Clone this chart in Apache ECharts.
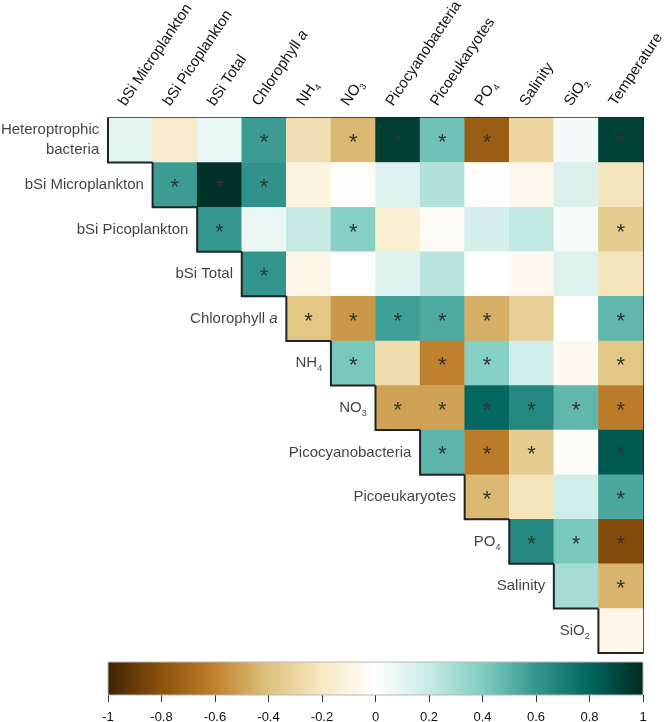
<!DOCTYPE html>
<html>
<head>
<meta charset="utf-8">
<script src="https://cdn.jsdelivr.net/npm/echarts@6/dist/echarts.min.js"></script>
<style>
  html, body { margin: 0; padding: 0; background: #fff; }
  #chart { width: 665px; height: 722px; }
</style>
</head>
<body>
<div id="chart"></div>
<script>
// column / row names ({i|..} italic, {sub|..} subscript)
var columns = ['bSi Microplankton', 'bSi Picoplankton', 'bSi Total', 'Chlorophyll {i|a}', 'NH{sub|4}', 'NO{sub|3}',
  'Picocyanobacteria', 'Picoeukaryotes', 'PO{sub|4}', 'Salinity', 'SiO{sub|2}', 'Temperature'];
var rows = ['Heteroptrophic\nbacteria', 'bSi Microplankton', 'bSi Picoplankton', 'bSi Total', 'Chlorophyll {i|a}',
  'NH{sub|4}', 'NO{sub|3}', 'Picocyanobacteria', 'Picoeukaryotes', 'PO{sub|4}', 'Salinity', 'SiO{sub|2}'];

// correlation values, row i starts at column i
var r0 = [0.10, -0.17, 0.08, 0.58, -0.25, -0.43, 0.93, 0.44, -0.75, -0.30, 0.05, 0.92];
var r1 = [0.58, 0.97, 0.62, -0.10, -0.02, 0.12, 0.26, -0.02, -0.06, 0.13, -0.22];
var r2 = [0.60, 0.07, 0.20, 0.38, -0.15, -0.04, 0.15, 0.21, 0.04, -0.35];
var r3 = [0.61, -0.08, 0.00, 0.11, 0.24, 0.00, -0.05, 0.12, -0.22];
var r4 = [-0.38, -0.53, 0.57, 0.53, -0.46, -0.33, 0.00, 0.48];
var r5 = [0.42, -0.26, -0.60, 0.38, 0.16, -0.06, -0.38];
var r6 = [-0.50, -0.50, 0.79, 0.66, 0.48, -0.62];
var r7 = [0.49, -0.62, -0.35, -0.03, 0.84];
var r8 = [-0.43, -0.22, 0.17, 0.54];
var r9 = [0.66, 0.42, -0.82];
var r10 = [0.30, -0.44];
var r11 = [-0.07];

// significance (1 = asterisk)
var s0 = [0, 0, 0, 1, 0, 1, 1, 1, 1, 0, 0, 1];
var s1 = [1, 1, 1, 0, 0, 0, 0, 0, 0, 0, 0];
var s2 = [1, 0, 0, 1, 0, 0, 0, 0, 0, 1];
var s3 = [1, 0, 0, 0, 0, 0, 0, 0, 0];
var s4 = [1, 1, 1, 1, 1, 0, 0, 1];
var s5 = [1, 0, 1, 1, 0, 0, 1];
var s6 = [1, 1, 1, 1, 1, 1];
var s7 = [1, 1, 1, 0, 1];
var s8 = [1, 0, 0, 1];
var s9 = [1, 1, 1];
var s10 = [0, 1];
var s11 = [0];

var colorbarRange = [-1, 1];
var scaleColors = ['#3f2306', '#8c510a', '#bf812d', '#dfc27d', '#f6e8c3', '#ffffff',
  '#c7eae5', '#80cdc1', '#35978f', '#01665e', '#00291f'];

var valueRows = [r0, r1, r2, r3, r4, r5, r6, r7, r8, r9, r10, r11];
var sigRows = [s0, s1, s2, s3, s4, s5, s6, s7, s8, s9, s10, s11];

var cells = [];
valueRows.forEach(function (vals, i) {
  vals.forEach(function (v, k) {
    cells.push([i + k, i, v, sigRows[i][k]]);
  });
});
var diag = rows.map(function (_, i) { return [i, i]; });

var FONT = "'Liberation Sans', Arial, sans-serif";
var TXT = '#111';
var rich = {
  i: { fontStyle: 'italic', fontSize: 15, fontFamily: FONT, color: TXT },
  sub: { fontSize: 9, lineHeight: 9, verticalAlign: 'bottom', fontFamily: FONT, color: TXT }
};

var chart = echarts.init(document.getElementById('chart'));
chart.setOption({
  animation: false,
  backgroundColor: '#fff',
  grid: [
    { left: 108, top: 118, width: 535, height: 535, outerBoundsMode: 'none' },
    { left: 108, top: 662, width: 535, height: 33, outerBoundsMode: 'none' }
  ],
  xAxis: [
    {
      type: 'category', data: columns, position: 'top', gridIndex: 0,
      axisLine: { show: true, lineStyle: { color: '#222', width: 2 } },
      axisTick: { show: false },
      splitLine: { show: false },
      axisLabel: {
        interval: 0, rotate: -56, margin: 8, fontSize: 15, lineHeight: 20,
        align: 'left', verticalAlign: 'bottom',
        fontFamily: FONT, color: TXT, rich: rich
      }
    },
    {
      type: 'value', gridIndex: 1, min: colorbarRange[0], max: colorbarRange[1], interval: 0.2,
      position: 'bottom',
      axisLine: { show: false },
      axisTick: { show: true, length: 7, lineStyle: { color: '#333', width: 1 } },
      splitLine: { show: false },
      axisLabel: { fontSize: 13, margin: 16, fontFamily: FONT, color: TXT }
    }
  ],
  yAxis: [
    {
      type: 'category', data: rows, inverse: true, position: 'right', gridIndex: 0,
      axisLine: { show: true, lineStyle: { color: '#222', width: 2 } },
      axisTick: { show: false },
      axisLabel: { show: false },
      splitLine: { show: false }
    },
    { type: 'value', gridIndex: 1, min: 0, max: 1, show: false }
  ],
  visualMap: {
    type: 'continuous', show: false, seriesIndex: 0, dimension: 2,
    min: colorbarRange[0], max: colorbarRange[1],
    inRange: { color: scaleColors }
  },
  series: [
    {
      type: 'heatmap', xAxisIndex: 0, yAxisIndex: 0, data: cells, silent: true,
      label: {
        show: true, fontSize: 22, color: '#333', fontFamily: FONT, offset: [0, 3],
        formatter: function (p) { return p.value[3] ? '*' : ''; }
      },
      emphasis: { disabled: true }
    },
    {
      type: 'custom', xAxisIndex: 0, yAxisIndex: 0, data: diag, silent: true, z: 5,
      renderItem: function (params, api) {
        var c = api.coord([api.value(0), api.value(1)]);
        var s = api.size([1, 1]);
        var x0 = c[0] - s[0] / 2, x1 = c[0] + s[0] / 2, y0 = c[1] - s[1] / 2, y1 = c[1] + s[1] / 2;
        return {
          type: 'polyline',
          shape: { points: [[x0, y0], [x0, y1], [x1, y1]] },
          style: { stroke: '#222', lineWidth: 2, fill: null }
        };
      }
    },
    {
      type: 'scatter', xAxisIndex: 0, yAxisIndex: 0, data: diag, silent: true,
      symbol: 'rect', symbolSize: 44,
      itemStyle: { color: 'transparent' },
      label: {
        show: true, position: 'left', distance: 9, fontSize: 15, lineHeight: 20,
        fontFamily: FONT, color: TXT, rich: rich,
        formatter: function (p) { return rows[p.dataIndex]; }
      }
    },
    {
      type: 'custom', xAxisIndex: 1, yAxisIndex: 1, silent: true,
      data: [[colorbarRange[0], 0, colorbarRange[1], 1]],
      renderItem: function (params, api) {
        var p0 = api.coord([api.value(0), api.value(3)]);
        var p1 = api.coord([api.value(2), api.value(1)]);
        var stops = scaleColors.map(function (col, k) {
          return { offset: k / (scaleColors.length - 1), color: col };
        });
        return {
          type: 'rect',
          shape: { x: p0[0], y: p0[1], width: p1[0] - p0[0], height: p1[1] - p0[1] },
          style: {
            fill: new echarts.graphic.LinearGradient(0, 0, 1, 0, stops),
            stroke: '#b8b8b8', lineWidth: 1
          }
        };
      }
    }
  ]
});
</script>
</body>
</html>
